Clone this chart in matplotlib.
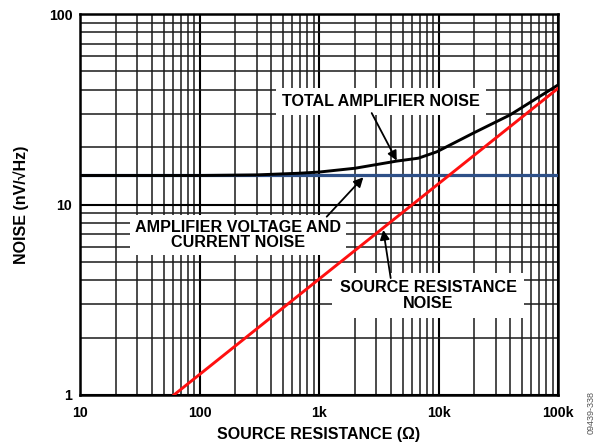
import matplotlib
matplotlib.use("Agg")
import matplotlib.pyplot as plt
from matplotlib.ticker import FixedLocator, NullFormatter, LogLocator

plt.rcParams['font.family'] = ['Liberation Sans', 'DejaVu Sans']
plt.rcParams['font.weight'] = 'bold'

# Data
amp_r = [10, 100000]
amp_noise = [14.2, 14.2]

src_r = [61, 100000]
src_noise = [1.0, 40.7]

total_r = [10, 100, 300, 693, 1000, 2000, 4470, 6780, 9660, 19550, 39600, 100000]
total_noise = [14.2, 14.2, 14.3, 14.6, 14.8, 15.5, 16.9, 17.5, 18.9, 23.7, 29.5, 42.4]

x_ticks = [10, 100, 1000, 10000, 100000]
x_labels = ["10", "100", "1k", "10k", "100k"]
y_ticks = [1, 10, 100]
y_labels = ["1", "10", "100"]

fig = plt.figure(figsize=(5.97, 4.45), dpi=100)
ax = fig.add_axes([80/597, 1-395/445, 478/597, 381/445])
ax.set_xscale('log')
ax.set_yscale('log')
ax.set_xlim(10, 100000)
ax.set_ylim(1, 100)

ax.xaxis.set_major_locator(FixedLocator(x_ticks))
ax.yaxis.set_major_locator(FixedLocator(y_ticks))
ax.xaxis.set_minor_locator(LogLocator(base=10, subs=range(2, 10)))
ax.yaxis.set_minor_locator(LogLocator(base=10, subs=range(2, 10)))
ax.xaxis.set_minor_formatter(NullFormatter())
ax.yaxis.set_minor_formatter(NullFormatter())
ax.set_xticklabels(x_labels, fontsize=10.2, fontweight='bold')
ax.set_yticklabels(y_labels, fontsize=10.2, fontweight='bold')
ax.tick_params(axis='x', which='both', length=0, pad=8)
ax.tick_params(axis='y', which='both', length=0, pad=5.5)

ax.grid(which='major', color='black', linewidth=1.5, zorder=0)
ax.grid(which='minor', color='#1a1a1a', linewidth=1.1, zorder=0)
ax.set_axisbelow(True)
for s in ax.spines.values():
    s.set_linewidth(1.8)
    s.set_color('black')

ax.plot(amp_r, amp_noise, color='#2E5088', linewidth=2.3, zorder=3, solid_capstyle='butt')
ax.plot(src_r, src_noise, color='#FF1010', linewidth=2.1, zorder=4)
ax.plot(total_r, total_noise, color='black', linewidth=2.1, zorder=3)

ax.set_xlabel("SOURCE RESISTANCE (Ω)", fontsize=11.5, fontweight='bold', labelpad=5)
ax.set_ylabel("NOISE (nV/√Hz)", fontsize=11.5, fontweight='bold', labelpad=14)

arrow = dict(arrowstyle='-|>', color='black', lw=1.3, mutation_scale=14, shrinkA=0, shrinkB=0)

ax.text(3300, 34.7, "TOTAL AMPLIFIER NOISE", fontsize=11.6, fontweight='bold',
        ha='center', va='center', zorder=5,
        bbox=dict(boxstyle='square,pad=0.35', facecolor='white', edgecolor='none'))
ax.annotate("", xy=(4470, 17.0), xytext=(2760, 30.2), arrowprops=arrow, zorder=6)

ax.text(210, 6.9, "AMPLIFIER VOLTAGE AND\nCURRENT NOISE", fontsize=11.6, fontweight='bold',
        ha='center', va='center', zorder=5, linespacing=1.05,
        bbox=dict(boxstyle='square,pad=0.3', facecolor='white', edgecolor='none'))
ax.annotate("", xy=(2350, 13.9), xytext=(1160, 8.63), arrowprops=arrow, zorder=6)

ax.text(8170, 3.33, "SOURCE RESISTANCE\nNOISE", fontsize=11.6, fontweight='bold',
        ha='center', va='center', zorder=5, linespacing=1.05,
        bbox=dict(boxstyle='square,pad=0.45', facecolor='white', edgecolor='none'))
ax.annotate("", xy=(3450, 7.35), xytext=(3980, 4.11), arrowprops=arrow, zorder=6)

fig.text(591/597, 1-413/445, "09439-338", rotation=90, fontsize=6.5, color='#555555',
         fontweight='normal', ha='center', va='center')

fig.savefig("out.png", dpi=100)
